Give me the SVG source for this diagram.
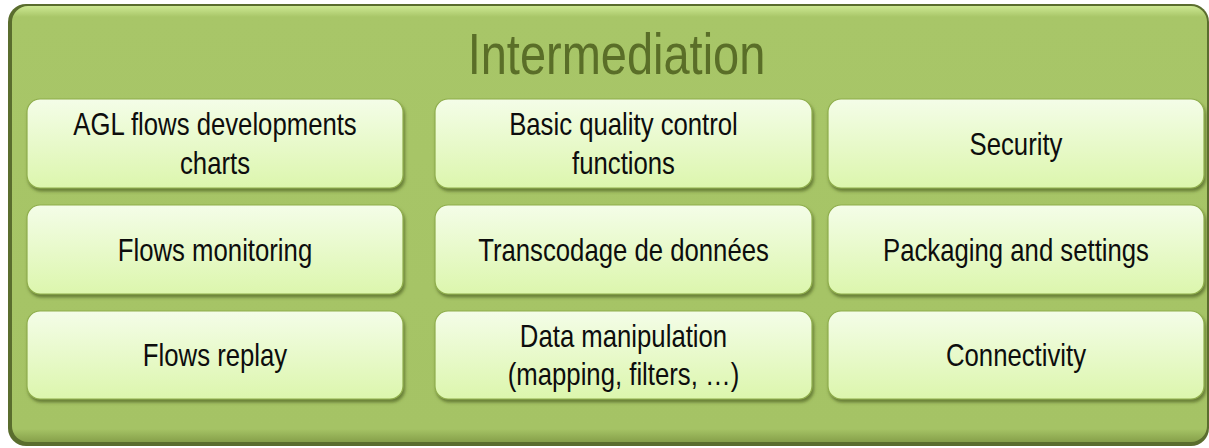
<svg xmlns="http://www.w3.org/2000/svg" width="1209" height="448" viewBox="0 0 1209 448">
<style>
.box{fill:url(#boxGrad);stroke:#8fae4c;stroke-width:1.2;filter:url(#sh)}
.lbl{font-family:"Liberation Sans",Arial,sans-serif;font-size:31px;fill:#0d0d0d;text-anchor:middle}
.title{font-family:"Liberation Sans",Arial,sans-serif;font-size:58px;fill:#5a6e28;text-anchor:middle}
</style>
<defs>
<linearGradient id="boxGrad" x1="0" y1="0" x2="0" y2="1">
<stop offset="0" stop-color="#f4fde8"/>
<stop offset="1" stop-color="#dcf6ad"/>
</linearGradient>
<linearGradient id="outerGrad" x1="0" y1="0" x2="0" y2="1">
<stop offset="0" stop-color="#cde892"/>
<stop offset="0.025" stop-color="#a8c668"/>
<stop offset="0.97" stop-color="#a5c365"/>
<stop offset="1" stop-color="#86a04a"/>
</linearGradient>
<filter id="sh" x="-5%" y="-10%" width="110%" height="130%">
<feDropShadow dx="1.5" dy="3" stdDeviation="1.5" flood-color="#4f6420" flood-opacity="0.7"/>
</filter>
</defs>
<g id="container">
<rect x="8" y="4" width="1201" height="442" rx="18" fill="#5a6d2e"/>
<rect x="12" y="6" width="1195" height="436" rx="16" fill="url(#outerGrad)"/>
<text class="title" transform="matrix(0.81 0 0 1 616.5 74)" x="0" y="0">Intermediation</text>
</g>
<g id="n1">
<rect class="box" x="27" y="99" width="376" height="89" rx="13"/>
<text class="lbl" transform="matrix(0.83 0 0 1 215 135)">AGL flows developments</text>
<text class="lbl" transform="matrix(0.83 0 0 1 215 174)">charts</text>
</g>
<g id="n2">
<rect class="box" x="435" y="99" width="377" height="89" rx="13"/>
<text class="lbl" transform="matrix(0.83 0 0 1 623.5 135)">Basic quality control</text>
<text class="lbl" transform="matrix(0.83 0 0 1 623.5 174)">functions</text>
</g>
<g id="n3">
<rect class="box" x="828" y="99" width="376" height="89" rx="13"/>
<text class="lbl" transform="matrix(0.83 0 0 1 1016 155)">Security</text>
</g>
<g id="n4">
<rect class="box" x="27" y="205" width="376" height="89" rx="13"/>
<text class="lbl" transform="matrix(0.83 0 0 1 215 261)">Flows monitoring</text>
</g>
<g id="n5">
<rect class="box" x="435" y="205" width="377" height="89" rx="13"/>
<text class="lbl" transform="matrix(0.83 0 0 1 623.5 261)">Transcodage de données</text>
</g>
<g id="n6">
<rect class="box" x="828" y="205" width="376" height="89" rx="13"/>
<text class="lbl" transform="matrix(0.83 0 0 1 1016 261)">Packaging and settings</text>
</g>
<g id="n7">
<rect class="box" x="27" y="311" width="376" height="88" rx="13"/>
<text class="lbl" transform="matrix(0.83 0 0 1 215 366)">Flows replay</text>
</g>
<g id="n8">
<rect class="box" x="435" y="311" width="377" height="88" rx="13"/>
<text class="lbl" transform="matrix(0.83 0 0 1 623.5 347)">Data manipulation</text>
<text class="lbl" transform="matrix(0.83 0 0 1 623.5 385)">(mapping, filters, …)</text>
</g>
<g id="n9">
<rect class="box" x="828" y="311" width="376" height="88" rx="13"/>
<text class="lbl" transform="matrix(0.83 0 0 1 1016 366)">Connectivity</text>
</g>
<g id="connectors"/>
</svg>
